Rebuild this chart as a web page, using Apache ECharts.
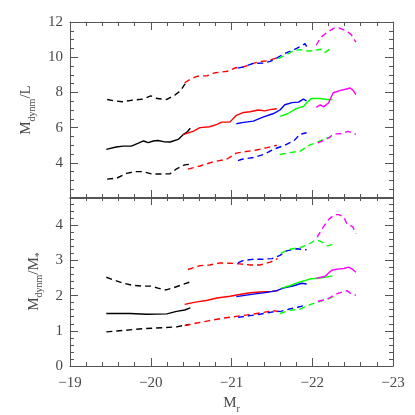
<!DOCTYPE html>
<html>
<head>
<meta charset="utf-8">
<script src="https://cdn.jsdelivr.net/npm/echarts@6/dist/echarts.min.js"></script>
<style>
  html, body { margin: 0; padding: 0; background: #ffffff; }
  #chart { width: 415px; height: 415px; }
</style>
</head>
<body>
<div id="chart"></div>
<script>
// x axis: M_r (absolute magnitude), drawn inverted from -19 to -23
const xTicks = [-19, -20, -21, -22, -23];

// top panel: M_dynm / L  (hi = upper dashed, mid = solid, lo = lower dashed)
const mlBlackHi = [[-19.46,7.6],[-19.55,7.52],[-19.65,7.47],[-19.76,7.55],[-19.9,7.62],[-20.0,7.8],[-20.08,7.65],[-20.2,7.6],[-20.3,7.85],[-20.37,8.1],[-20.42,8.45],[-20.46,8.62]];
const mlRedHi = [[-20.42,8.55],[-20.5,8.78],[-20.58,8.92],[-20.7,8.95],[-20.8,9.12],[-20.95,9.2],[-21.05,9.4],[-21.15,9.45],[-21.25,9.62],[-21.35,9.75],[-21.45,9.8],[-21.55,9.95],[-21.6,9.92]];
const mlBlueHi = [[-21.08,9.38],[-21.15,9.45],[-21.27,9.65],[-21.39,9.67],[-21.48,9.76],[-21.56,9.95],[-21.64,10.17],[-21.77,10.42],[-21.87,10.64],[-21.91,10.78],[-21.95,10.42]];
const mlGreenHi = [[-21.58,9.92],[-21.68,10.15],[-21.78,10.38],[-21.85,10.43],[-21.95,10.35],[-22.03,10.37],[-22.1,10.46],[-22.15,10.25],[-22.25,10.56]];
const mlMagentaHi = [[-22.05,10.68],[-22.1,11.1],[-22.18,11.4],[-22.27,11.65],[-22.33,11.67],[-22.42,11.5],[-22.48,11.3],[-22.54,10.86]];

const mlBlackMid = [[-19.45,4.76],[-19.57,4.9],[-19.66,4.95],[-19.76,4.95],[-19.84,5.1],[-19.91,5.24],[-19.97,5.15],[-20.03,5.24],[-20.09,5.27],[-20.16,5.2],[-20.24,5.18],[-20.34,5.33],[-20.4,5.6],[-20.45,5.75],[-20.49,5.96]];
const mlRedMid = [[-20.4,5.6],[-20.53,5.8],[-20.61,6.0],[-20.73,6.05],[-20.82,6.18],[-20.88,6.31],[-20.98,6.31],[-21.06,6.7],[-21.15,6.86],[-21.23,6.9],[-21.33,7.0],[-21.41,6.95],[-21.48,7.02],[-21.56,7.07]];
const mlBlueMid = [[-21.06,6.22],[-21.15,6.3],[-21.27,6.37],[-21.39,6.6],[-21.52,6.8],[-21.6,7.0],[-21.66,7.3],[-21.75,7.42],[-21.83,7.45],[-21.89,7.62],[-21.93,7.52]];
const mlGreenMid = [[-21.6,6.64],[-21.7,6.8],[-21.8,7.08],[-21.89,7.2],[-21.94,7.45],[-21.99,7.66],[-22.1,7.65],[-22.18,7.6],[-22.25,7.6]];
const mlMagentaMid = [[-22.05,7.15],[-22.1,7.3],[-22.14,7.18],[-22.2,7.4],[-22.26,7.98],[-22.34,8.1],[-22.41,8.18],[-22.47,8.25],[-22.51,8.1],[-22.54,7.88]];

const mlBlackLo = [[-19.46,3.07],[-19.58,3.13],[-19.7,3.4],[-19.8,3.5],[-19.9,3.5],[-20.02,3.36],[-20.12,3.36],[-20.24,3.38],[-20.32,3.66],[-20.42,3.88],[-20.49,3.92]];
const mlRedLo = [[-20.46,3.64],[-20.61,3.82],[-20.77,4.05],[-20.94,4.2],[-21.06,4.55],[-21.15,4.62],[-21.31,4.73],[-21.44,4.86],[-21.56,5.0]];
const mlBlueLo = [[-21.08,4.12],[-21.13,4.2],[-21.27,4.3],[-21.41,4.49],[-21.52,4.77],[-21.64,4.96],[-21.77,5.24],[-21.85,5.62],[-21.93,5.71]];
const mlGreenLo = [[-21.6,4.47],[-21.72,4.58],[-21.85,4.66],[-21.97,5.02],[-22.05,5.14],[-22.14,5.34],[-22.22,5.46],[-22.25,5.58]];
const mlMagentaLo = [[-22.07,5.13],[-22.18,5.34],[-22.27,5.64],[-22.37,5.65],[-22.44,5.79],[-22.49,5.72],[-22.54,5.62]];

// bottom panel: M_dynm / M_*
const msBlackHi = [[-19.45,2.52],[-19.56,2.43],[-19.66,2.35],[-19.78,2.29],[-19.9,2.27],[-20.0,2.27],[-20.09,2.21],[-20.19,2.16],[-20.29,2.23],[-20.39,2.31],[-20.48,2.38]];
const msRedHi = [[-20.46,2.74],[-20.61,2.85],[-20.73,2.87],[-20.86,2.93],[-20.98,2.92],[-21.1,2.9],[-21.23,2.87],[-21.35,2.87],[-21.48,2.95],[-21.54,3.02],[-21.57,3.05]];
const msBlueHi = [[-21.08,2.93],[-21.14,2.99],[-21.26,3.03],[-21.37,3.03],[-21.5,3.05],[-21.6,3.14],[-21.68,3.27],[-21.81,3.33],[-21.93,3.3]];
const msGreenHi = [[-21.61,3.2],[-21.71,3.31],[-21.84,3.36],[-21.95,3.45],[-22.02,3.55],[-22.07,3.57],[-22.14,3.5],[-22.19,3.41],[-22.25,3.45]];
const msMagentaHi = [[-22.06,3.66],[-22.14,3.96],[-22.21,4.18],[-22.28,4.3],[-22.33,4.3],[-22.39,4.24],[-22.43,4.03],[-22.5,3.96],[-22.54,3.76]];

const msBlackMid = [[-19.45,1.49],[-19.74,1.49],[-19.95,1.47],[-20.2,1.48],[-20.32,1.55],[-20.42,1.59],[-20.49,1.65]];
const msRedMid = [[-20.42,1.75],[-20.57,1.82],[-20.69,1.86],[-20.82,1.93],[-20.98,1.98],[-21.1,2.03],[-21.23,2.08],[-21.35,2.1],[-21.5,2.12],[-21.58,2.14]];
const msBlueMid = [[-21.06,1.97],[-21.27,2.04],[-21.44,2.09],[-21.56,2.14],[-21.64,2.21],[-21.77,2.28],[-21.87,2.35],[-21.93,2.33]];
const msGreenMid = [[-21.62,2.21],[-21.72,2.28],[-21.82,2.37],[-21.9,2.42],[-21.97,2.47],[-22.1,2.5],[-22.18,2.53],[-22.25,2.56]];
const msMagentaMid = [[-22.05,2.49],[-22.16,2.55],[-22.24,2.72],[-22.31,2.75],[-22.39,2.77],[-22.45,2.81],[-22.49,2.76],[-22.54,2.66]];

const msBlackLo = [[-19.45,0.97],[-19.66,1.01],[-19.91,1.06],[-20.16,1.09],[-20.32,1.11],[-20.42,1.16],[-20.48,1.18]];
const msRedLo = [[-20.42,1.15],[-20.57,1.22],[-20.73,1.29],[-20.9,1.36],[-21.06,1.41],[-21.23,1.46],[-21.39,1.52],[-21.52,1.57],[-21.58,1.55]];
const msBlueLo = [[-21.08,1.38],[-21.23,1.43],[-21.35,1.47],[-21.52,1.54],[-21.62,1.56],[-21.72,1.62],[-21.82,1.67],[-21.92,1.73]];
const msGreenLo = [[-21.6,1.49],[-21.72,1.58],[-21.84,1.61],[-21.98,1.75],[-22.1,1.84],[-22.2,1.91],[-22.25,1.96]];
const msMagentaLo = [[-22.07,1.84],[-22.18,1.89],[-22.3,2.05],[-22.37,2.1],[-22.43,2.14],[-22.49,2.04],[-22.54,2.01]];

const colors = { black: "#000000", red: "#ff0000", blue: "#0000ff", green: "#00ff00", magenta: "#ff00ff" };
const FONT = "Liberation Serif";
const TXT = "#4a4a4a";
const FRAME = "#555555";

function line(data, color, dashed, panel) {
  return {
    type: "line",
    data: data,
    xAxisIndex: panel * 2,
    yAxisIndex: panel * 2,
    showSymbol: false,
    symbol: "none",
    silent: true,
    animation: false,
    lineStyle: { color: color, width: 1.4, type: dashed ? [6, 4] : "solid" }
  };
}

function xAxis(grid, pos, labels) {
  return {
    type: "value",
    gridIndex: grid,
    position: pos,
    inverse: true,
    min: -23,
    max: -19,
    interval: 1,
    axisLine: { show: true, onZero: false, lineStyle: { color: FRAME, width: 1 } },
    axisTick: { show: true, inside: true, length: 8, lineStyle: { color: FRAME } },
    minorTick: { show: true, splitNumber: 5, length: 4, lineStyle: { color: FRAME } },
    splitLine: { show: false },
    axisLabel: {
      show: labels,
      margin: 10,
      color: TXT,
      fontFamily: FONT,
      fontSize: 15,
      formatter: v => (xTicks.indexOf(v) >= 0 ? String(v).replace("-", "\u2212") : "")
    }
  };
}

function yAxis(grid, pos, min, max, interval, minorSplit, labels, name, nameGap) {
  return {
    type: "value",
    gridIndex: grid,
    position: pos,
    min: min,
    max: max,
    interval: interval,
    axisLine: { show: true, onZero: false, lineStyle: { color: FRAME, width: 1 } },
    axisTick: { show: true, inside: true, length: 8, lineStyle: { color: FRAME } },
    minorTick: { show: true, splitNumber: minorSplit, length: 4, lineStyle: { color: FRAME } },
    splitLine: { show: false },
    axisLabel: {
      show: labels,
      margin: 7,
      color: TXT,
      fontFamily: FONT,
      fontSize: 15,
      showMinLabel: grid === 1,
      showMaxLabel: grid === 0
    },
    name: name,
    nameLocation: "middle",
    nameGap: nameGap,
    nameTextStyle: {
      color: TXT,
      fontFamily: FONT,
      fontSize: 15,
      rich: {
        m: { fontFamily: FONT, fontSize: 15, color: TXT, lineHeight: 22, verticalAlign: "middle" },
        s: { fontFamily: FONT, fontSize: 10, color: TXT, lineHeight: 22, verticalAlign: "bottom" }
      }
    }
  };
}

let myChart = echarts.init(document.getElementById("chart"), null, { renderer: "canvas" });

let option = {
  backgroundColor: "#ffffff",
  animation: false,
  grid: [
    { left: 70, right: 22, top: 22, height: 176 },
    { left: 70, right: 22, top: 197, height: 173 }
  ],
  xAxis: [
    xAxis(0, "bottom", false),
    xAxis(0, "top", false),
    Object.assign(xAxis(1, "bottom", true), {
      name: "{m|M}{s|r}",
      nameLocation: "middle",
      nameGap: 26,
      nameTextStyle: {
        color: TXT,
        rich: {
          m: { fontFamily: FONT, fontSize: 15, color: TXT, lineHeight: 22, verticalAlign: "middle" },
          s: { fontFamily: FONT, fontSize: 10, color: TXT, lineHeight: 22, verticalAlign: "bottom" }
        }
      }
    }),
    xAxis(1, "top", false)
  ],
  yAxis: [
    yAxis(0, "left", 2, 12, 2, 4, true, "{m|M}{s|dynm}{m|/L}", 32),
    yAxis(0, "right", 2, 12, 2, 4, false, "", 0),
    yAxis(1, "left", 0, 4.8, 1, 5, true, "{m|M}{s|dynm}{m|/M}{s|*}", 24),
    yAxis(1, "right", 0, 4.8, 1, 5, false, "", 0)
  ],
  series: [
    line(mlBlackHi, colors.black, true, 0),
    line(mlBlackMid, colors.black, false, 0),
    line(mlBlackLo, colors.black, true, 0),
    line(mlRedHi, colors.red, true, 0),
    line(mlRedMid, colors.red, false, 0),
    line(mlRedLo, colors.red, true, 0),
    line(mlBlueHi, colors.blue, true, 0),
    line(mlBlueMid, colors.blue, false, 0),
    line(mlBlueLo, colors.blue, true, 0),
    line(mlGreenHi, colors.green, true, 0),
    line(mlGreenMid, colors.green, false, 0),
    line(mlGreenLo, colors.green, true, 0),
    line(mlMagentaHi, colors.magenta, true, 0),
    line(mlMagentaMid, colors.magenta, false, 0),
    line(mlMagentaLo, colors.magenta, true, 0),

    line(msBlackHi, colors.black, true, 1),
    line(msBlackMid, colors.black, false, 1),
    line(msBlackLo, colors.black, true, 1),
    line(msRedHi, colors.red, true, 1),
    line(msRedMid, colors.red, false, 1),
    line(msRedLo, colors.red, true, 1),
    line(msBlueHi, colors.blue, true, 1),
    line(msBlueMid, colors.blue, false, 1),
    line(msBlueLo, colors.blue, true, 1),
    line(msGreenHi, colors.green, true, 1),
    line(msGreenMid, colors.green, false, 1),
    line(msGreenLo, colors.green, true, 1),
    line(msMagentaHi, colors.magenta, true, 1),
    line(msMagentaMid, colors.magenta, false, 1),
    line(msMagentaLo, colors.magenta, true, 1)
  ]
};

myChart.setOption(option);
</script>
</body>
</html>
